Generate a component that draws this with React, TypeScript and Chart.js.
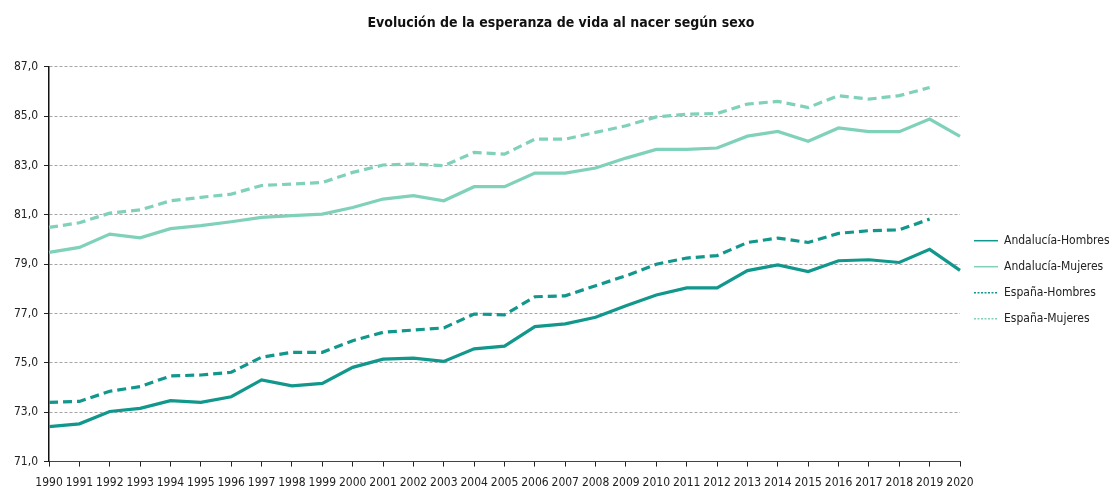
import React, { useEffect, useRef } from "react";
import { Chart, registerables } from "chart.js";

Chart.register(...registerables);

const years: string[] = [
  "1990", "1991", "1992", "1993", "1994", "1995", "1996", "1997", "1998", "1999",
  "2000", "2001", "2002", "2003", "2004", "2005", "2006", "2007", "2008", "2009",
  "2010", "2011", "2012", "2013", "2014", "2015", "2016", "2017", "2018", "2019", "2020",
];

const andaluciaHombres: (number | null)[] = [
  72.42, 72.53, 73.03, 73.16, 73.47, 73.40, 73.63, 74.31, 74.07, 74.17,
  74.82, 75.15, 75.19, 75.06, 75.57, 75.68, 76.47, 76.58, 76.85, 77.32,
  77.75, 78.04, 78.04, 78.74, 78.97, 78.70, 79.14, 79.18, 79.07, 79.60, 78.75,
];

const andaluciaMujeres: (number | null)[] = [
  79.48, 79.68, 80.22, 80.07, 80.44, 80.56, 80.72, 80.90, 80.97, 81.03,
  81.30, 81.64, 81.78, 81.57, 82.14, 82.14, 82.69, 82.69, 82.90, 83.30,
  83.65, 83.65, 83.71, 84.19, 84.38, 83.98, 84.52, 84.37, 84.37, 84.88, 84.18,
];

const espanaHombres: (number | null)[] = [
  73.40, 73.44, 73.85, 74.04, 74.47, 74.51, 74.62, 75.23, 75.43, 75.43,
  75.90, 76.24, 76.33, 76.42, 76.98, 76.95, 77.68, 77.72, 78.13, 78.53,
  79.00, 79.25, 79.35, 79.88, 80.06, 79.88, 80.25, 80.36, 80.39, 80.83, null,
];

const espanaMujeres: (number | null)[] = [
  80.49, 80.68, 81.07, 81.20, 81.57, 81.71, 81.84, 82.19, 82.25, 82.31,
  82.72, 83.02, 83.06, 82.99, 83.53, 83.46, 84.07, 84.07, 84.34, 84.61,
  84.97, 85.08, 85.11, 85.49, 85.60, 85.35, 85.83, 85.69, 85.83, 86.16, null,
];

const seriesNames: string[] = [
  "Andalucía-Hombres",
  "Andalucía-Mujeres",
  "España-Hombres",
  "España-Mujeres",
];

const titleText = "Evolución de la esperanza de vida al nacer según sexo";

const DARK = "#11978b";
const LIGHT = "#80d1ba";
const FONT = '"Liberation Sans Narrow", "Arial Narrow", "DejaVu Sans Condensed", Arial, sans-serif';

export default function App() {
  const canvasRef = useRef<HTMLCanvasElement | null>(null);

  useEffect(() => {
    const canvas = canvasRef.current;
    if (!canvas) return;
    const mk = (label: string, data: (number | null)[], color: string, dashed: boolean) => ({
      label,
      data,
      borderColor: color,
      backgroundColor: color,
      borderWidth: 3.2,
      borderDash: dashed ? [9, 5] : [],
      pointRadius: 0,
      pointHoverRadius: 0,
      tension: 0,
      fill: false,
      spanGaps: false,
    });
    const chart = new Chart(canvas, {
      type: "line",
      data: {
        labels: years,
        datasets: [
          mk(seriesNames[0], andaluciaHombres, DARK, false),
          mk(seriesNames[1], andaluciaMujeres, LIGHT, false),
          mk(seriesNames[2], espanaHombres, DARK, true),
          mk(seriesNames[3], espanaMujeres, LIGHT, true),
        ],
      },
      options: {
        animation: false,
        responsive: true,
        maintainAspectRatio: false,
        layout: { padding: { left: 8, right: 0, top: 0, bottom: -7 } },
        plugins: {
          tooltip: { enabled: false },
          title: {
            display: true,
            text: titleText,
            color: "#111",
            font: { family: FONT, size: 14, weight: "bold" },
            padding: { top: 15, bottom: 35 },
          },
          legend: {
            position: "right",
            align: "center",
            maxWidth: 154,
            title: {
              display: true,
              text: " ",
              font: { family: FONT, size: 12 },
              padding: { top: 0, bottom: 46 },
            },
            labels: {
              usePointStyle: true,
              pointStyle: "line",
              pointStyleWidth: 24,
              padding: 14,
              color: "#222",
              font: { family: FONT, size: 12 },
              generateLabels: (c: any) =>
                c.data.datasets.map((ds: any, i: number) => ({
                  text: ds.label,
                  strokeStyle: ds.borderColor,
                  fillStyle: ds.borderColor,
                  lineWidth: 1.5,
                  lineDash: ds.borderDash && ds.borderDash.length ? [2, 1.5] : [],
                  pointStyle: "line",
                  hidden: false,
                  datasetIndex: i,
                  fontColor: "#222",
                })),
            },
          },
        },
        scales: {
          x: {
            offset: false,
            grid: {
              display: true,
              drawOnChartArea: false,
              drawTicks: true,
              tickLength: 5,
              tickColor: "#222",
              tickWidth: 1,
            },
            border: { display: true, color: "#444", width: 1 },
            ticks: {
              autoSkip: false,
              maxRotation: 0,
              minRotation: 0,
              padding: 9,
              color: "#222",
              font: { family: FONT, size: 12 },
            },
          },
          y: {
            min: 71,
            max: 87,
            grid: {
              color: "#a6a6a6",
              lineWidth: 1,
              tickLength: 5,
              tickColor: "#222",
              tickWidth: 1,
              tickBorderDash: [],
            },
            border: { display: true, color: "#111", width: 1.5, dash: [3, 2] },
            ticks: {
              stepSize: 2,
              padding: 6,
              color: "#222",
              font: { family: FONT, size: 12 },
              callback: (v: any) => Number(v).toFixed(1).replace(".", ","),
            },
          },
        },
      },
    });
    return () => chart.destroy();
  }, []);

  return (
    <div style={{ position: "absolute", left: 0, top: 0, width: 1114, height: 492 }}>
      <canvas ref={canvasRef} />
    </div>
  );
}
